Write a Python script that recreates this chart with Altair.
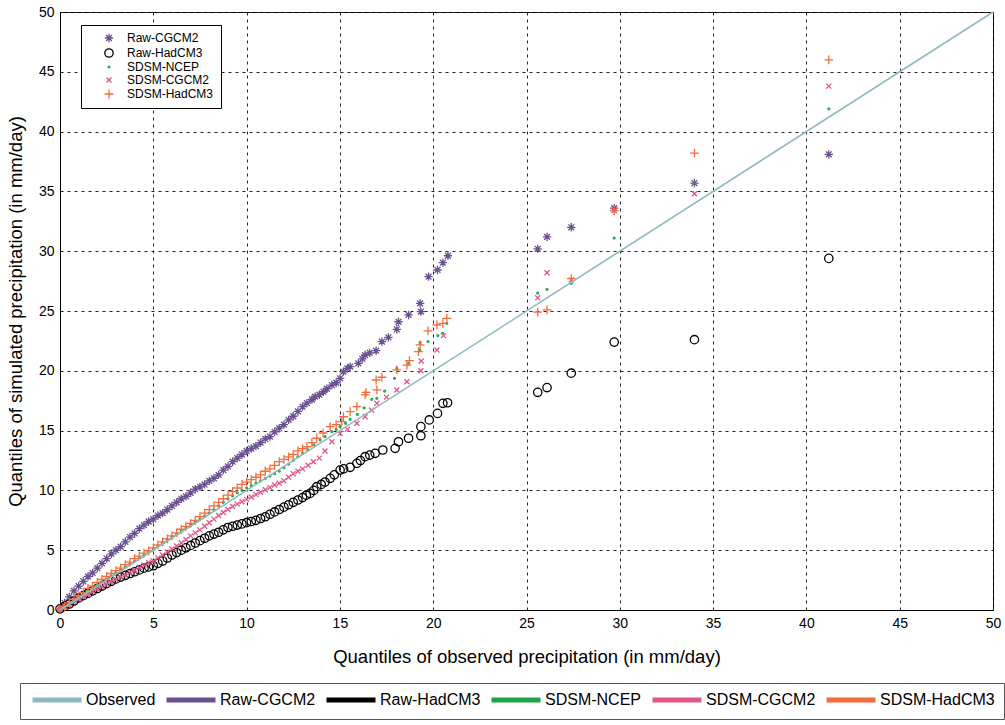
import altair as alt
import pandas as pd

SERIES = ["Raw-CGCM2", "Raw-HadCM3", "SDSM-NCEP", "SDSM-CGCM2", "SDSM-HadCM3"]
LINE_SERIES = ["Observed"] + SERIES
POINT_COLORS = ["#6a5090", "#000000", "#1aa64a", "#e0568a", "#f26d3d"]
LINE_COLORS = ["#8fb9c1", "#6a5090", "#000000", "#1aa64a", "#e0568a", "#f26d3d"]

# observed quantiles (dense part, mm/day)
OBS_Q = [0.0, 0.25, 0.5, 0.75, 1.0, 1.25, 1.5, 1.75, 2.0, 2.25, 2.5, 2.75, 3.0, 3.25,
         3.5, 3.75, 4.0, 4.25, 4.5, 4.75, 5.0, 5.25, 5.5, 5.75, 6.0, 6.25, 6.5, 6.75,
         7.0, 7.25, 7.5, 7.75, 8.0, 8.25, 8.5, 8.75, 9.0, 9.25, 9.5, 9.75, 10.0, 10.25,
         10.5, 10.75, 11.0, 11.25, 11.5, 11.75, 12.0, 12.25, 12.5, 12.75, 13.0]

RAW_CGCM2 = [0.1, 0.6, 1.1, 1.6, 2.0, 2.4, 2.8, 3.1, 3.5, 3.9, 4.3, 4.7, 5.0, 5.3, 5.7, 6.1,
             6.4, 6.8, 7.1, 7.4, 7.6, 7.9, 8.1, 8.4, 8.7, 9.0, 9.3, 9.5, 9.8, 10.1, 10.3,
             10.5, 10.8, 11.0, 11.3, 11.7, 12.0, 12.4, 12.7, 13.0, 13.3, 13.5, 13.7, 14.0,
             14.3, 14.5, 14.9, 15.2, 15.5, 15.9, 16.2, 16.6, 17.0]
RAW_HADCM3 = [0.1, 0.3, 0.5, 0.75, 1.0, 1.2, 1.4, 1.6, 1.8, 2.0, 2.2, 2.4, 2.6, 2.75, 2.9,
              3.05, 3.2, 3.35, 3.5, 3.6, 3.7, 3.9, 4.1, 4.35, 4.6, 4.8, 5.0, 5.2, 5.4, 5.6,
              5.8, 6.0, 6.2, 6.35, 6.5, 6.7, 6.9, 7.0, 7.1, 7.2, 7.3, 7.4, 7.5, 7.65, 7.8,
              8.0, 8.2, 8.4, 8.6, 8.8, 9.0, 9.2, 9.4]
SDSM_NCEP = [0.1, 0.3, 0.6, 0.85, 1.1, 1.35, 1.6, 1.85, 2.1, 2.35, 2.6, 2.85, 3.1, 3.35, 3.6,
             3.85, 4.1, 4.35, 4.6, 4.85, 5.1, 5.35, 5.6, 5.85, 6.1, 6.35, 6.6, 6.85, 7.1,
             7.35, 7.6, 7.85, 8.1, 8.4, 8.7, 9.0, 9.3, 9.55, 9.8, 10.0, 10.2, 10.4, 10.6,
             10.8, 11.0, 11.2, 11.4, 11.6, 11.9, 12.2, 12.5, 12.8, 13.1]
SDSM_CGCM2 = [0.1, 0.25, 0.45, 0.7, 0.9, 1.1, 1.3, 1.55, 1.75, 1.95, 2.15, 2.35, 2.55, 2.75,
              2.95, 3.15, 3.35, 3.55, 3.75, 3.95, 4.1, 4.35, 4.6, 4.85, 5.1, 5.35, 5.6, 5.9,
              6.2, 6.45, 6.7, 7.0, 7.3, 7.6, 7.9, 8.15, 8.4, 8.65, 8.85, 9.05, 9.25, 9.45,
              9.65, 9.85, 10.05, 10.25, 10.45, 10.6, 10.8, 11.1, 11.4, 11.6, 11.8]
SDSM_HADCM3 = [0.1, 0.3, 0.6, 0.9, 1.2, 1.45, 1.8, 2.0, 2.3, 2.55, 2.8, 3.05, 3.3, 3.5, 3.8,
               4.0, 4.3, 4.5, 4.75, 4.95, 5.2, 5.45, 5.7, 5.95, 6.2, 6.45, 6.75, 7.0, 7.25,
               7.5, 7.8, 8.1, 8.4, 8.7, 9.0, 9.3, 9.6, 9.9, 10.2, 10.5, 10.7, 10.9, 11.1,
               11.3, 11.6, 11.8, 12.1, 12.4, 12.6, 12.8, 13.0, 13.3, 13.5]

# upper tails (observed quantile, simulated quantile)
RAW_CGCM2_TX = [13.23, 13.5, 13.67, 13.9, 14.12, 14.3, 14.57, 14.8, 15.01, 15.19, 15.4, 15.55,
                15.99, 16.2, 16.35, 16.6, 16.94, 17.25, 17.6, 18.05, 18.14, 18.68, 19.34,
                19.3, 19.75, 20.23, 20.52, 20.79, 25.6, 26.1, 27.4, 29.7, 34.0, 41.2]
RAW_CGCM2_TY = [17.3, 17.6, 17.84, 18.0, 18.25, 18.5, 18.81, 19.0, 19.37, 19.93, 20.2, 20.35,
                20.62, 21.0, 21.32, 21.5, 21.68, 22.44, 22.8, 23.47, 24.1, 24.67, 24.95,
                25.64, 27.87, 28.43, 29.04, 29.62, 30.2, 31.2, 32.0, 33.6, 35.7, 38.1]
RAW_HADCM3_TX = [13.2, 13.4, 13.6, 13.76, 14.0, 14.2, 14.48, 14.7, 15.01, 15.2, 15.55, 15.91,
                 16.1, 16.35, 16.6, 16.89, 17.3, 17.96, 18.14, 18.68, 19.34, 19.34, 19.79,
                 20.23, 20.52, 20.77, 25.6, 26.1, 27.4, 29.7, 34.0, 41.2]
RAW_HADCM3_TY = [9.6, 9.75, 10.0, 10.31, 10.5, 10.7, 11.01, 11.3, 11.7, 11.8, 11.93, 12.26,
                 12.5, 12.82, 12.95, 13.1, 13.38, 13.52, 14.07, 14.36, 14.57, 15.33, 15.89,
                 16.44, 17.28, 17.33, 18.2, 18.6, 19.8, 22.4, 22.6, 29.4]
SDSM_NCEP_TX = [13.3, 13.6, 13.94, 14.2, 14.57, 14.8, 15.01, 15.3, 15.55, 15.94, 16.3, 16.71,
                16.98, 17.4, 17.93, 18.05, 18.68, 19.27, 19.3, 19.72, 20.25, 20.52, 20.73,
                25.6, 26.1, 27.4, 29.7, 34.0, 41.2]
SDSM_NCEP_TY = [13.4, 13.8, 14.21, 14.5, 14.91, 15.1, 15.33, 15.6, 15.94, 16.36, 16.9, 17.61,
                17.7, 18.3, 19.37, 20.21, 20.63, 21.74, 22.35, 22.44, 22.94, 23.14, 23.97,
                26.5, 26.8, 27.3, 31.1, 35.7, 41.9]
SDSM_CGCM2_TX = [13.3, 13.58, 13.9, 14.2, 14.57, 15.01, 15.4, 15.91, 16.35, 16.7, 16.98, 17.5,
                 18.05, 18.59, 19.34, 19.36, 20.2, 20.55, 25.6, 26.1, 27.4, 29.7, 34.0, 41.2]
SDSM_CGCM2_TY = [12.1, 12.4, 12.7, 13.3, 14.07, 14.77, 15.1, 15.61, 16.16, 16.7, 17.28, 17.8,
                 18.4, 19.09, 20.01, 20.82, 21.74, 22.94, 26.1, 28.2, 27.6, 33.4, 34.8, 43.8]
SDSM_HADCM3_TX = [13.23, 13.5, 13.76, 14.1, 14.48, 14.8, 15.1, 15.19, 15.55, 15.91, 16.35,
                  16.4, 16.98, 16.94, 17.25, 18.05, 18.59, 18.73, 19.21, 19.3, 19.72, 20.2,
                  20.52, 20.73, 25.6, 26.1, 27.4, 29.7, 34.0, 41.2]
SDSM_HADCM3_TY = [13.65, 14.0, 14.36, 14.8, 15.33, 15.5, 15.75, 16.16, 16.58, 17.0, 17.98,
                  18.2, 18.4, 19.23, 19.46, 20.07, 20.48, 20.85, 21.6, 22.16, 23.33, 23.83,
                  23.97, 24.39, 24.9, 25.1, 27.7, 33.4, 38.2, 46.0]

# observed 1:1 reference line
OBS_LINE_X = [0, 50]
OBS_LINE_Y = [0, 50]

DENSE = [RAW_CGCM2, RAW_HADCM3, SDSM_NCEP, SDSM_CGCM2, SDSM_HADCM3]
TAIL_X = [RAW_CGCM2_TX, RAW_HADCM3_TX, SDSM_NCEP_TX, SDSM_CGCM2_TX, SDSM_HADCM3_TX]
TAIL_Y = [RAW_CGCM2_TY, RAW_HADCM3_TY, SDSM_NCEP_TY, SDSM_CGCM2_TY, SDSM_HADCM3_TY]

rows = []
for name, dense, tx, ty in zip(SERIES, DENSE, TAIL_X, TAIL_Y):
    for xv, yv in zip(OBS_Q, dense):
        rows.append({"series": name, "obs": xv, "sim": yv})
    for xv, yv in zip(tx, ty):
        rows.append({"series": name, "obs": xv, "sim": yv})
pts = pd.DataFrame(rows)
line_df = pd.DataFrame({"series": ["Observed"] * 2, "obs": OBS_LINE_X, "sim": OBS_LINE_Y})

ASTERISK = "M-1,0L1,0M0,-1L0,1M-0.7,-0.7L0.7,0.7M-0.7,0.7L0.7,-0.7"
DOT = "M-0.22,0A0.22,0.22 0 1,0 0.22,0A0.22,0.22 0 1,0 -0.22,0Z"
CROSS = "M-0.6,-0.6L0.6,0.6M-0.6,0.6L0.6,-0.6"
PLUS = "M-1.05,0L1.05,0M0,-1.05L0,1.05"
SHAPES = [ASTERISK, "circle", DOT, CROSS, PLUS]
LINE_SYM = "M-4.9,0L4.9,0"

FONT = "Liberation Sans"

xscale = alt.Scale(domain=[0, 50], nice=False, zero=False)
yscale = alt.Scale(domain=[0, 50], nice=False, zero=False)
xaxis = alt.Axis(values=list(range(0, 51, 5)), title="Quantiles of observed precipitation (in mm/day)")
yaxis = alt.Axis(values=list(range(0, 51, 5)), title="Quantiles of simulated precipitation (in mm/day)")

top_legend = alt.Legend(
    title=None, orient="none", legendX=21, legendY=13, strokeColor="#000000",
    fillColor="white", padding=7, labelFont=FONT, labelFontSize=12, labelColor="#000000",
    rowPadding=1, symbolOffset=15, labelOffset=12, symbolStrokeWidth=1.3, symbolSize=70,
)

points = alt.Chart(pts).mark_point(filled=False, strokeWidth=1.3, opacity=1, size=70).encode(
    x=alt.X("obs:Q", scale=xscale, axis=xaxis),
    y=alt.Y("sim:Q", scale=yscale, axis=yaxis),
    color=alt.Color("series:N", scale=alt.Scale(domain=SERIES, range=POINT_COLORS), legend=top_legend),
    shape=alt.Shape("series:N", scale=alt.Scale(domain=SERIES, range=SHAPES), legend=top_legend),
)

bottom_legend = alt.Legend(
    title=None, orient="none", legendX=-40, legendY=671, direction="horizontal", columns=6,
    strokeColor="#555555", fillColor="white", padding=9, labelFont=FONT, labelFontSize=16,
    labelColor="#000000", symbolType=LINE_SYM, symbolSize=100, symbolStrokeWidth=5,
    symbolOffset=20, labelOffset=21, columnPadding=0,
)

line = alt.Chart(line_df).mark_line(strokeWidth=1.6).encode(
    x=alt.X("obs:Q", scale=xscale, axis=xaxis),
    y=alt.Y("sim:Q", scale=yscale, axis=yaxis),
    color=alt.Color("series:N", scale=alt.Scale(domain=LINE_SERIES, range=LINE_COLORS), legend=bottom_legend),
)

chart = alt.layer(points, line).resolve_scale(
    color="independent", shape="independent"
).properties(
    width=933, height=598, padding={"left": 6, "top": 5, "right": 0, "bottom": 1}
).configure_view(
    stroke="#000000", strokeWidth=1
).configure_axis(
    labelFont=FONT, labelFontSize=14, labelColor="#000000", titleFont=FONT,
    titleFontSize=18.5, titleFontWeight="normal", titleColor="#000000",
    domainColor="#000000", domainWidth=1, ticks=False, labelPadding=6,
    grid=True, gridColor="#222222", gridDash=[3, 4], gridWidth=1, gridOpacity=1,
    labelFlush=False, labelOverlap=False,
).configure_axisX(titlePadding=17).configure_axisY(titlePadding=13)

chart.save("out.html", embed_options={"renderer": "svg", "actions": False})
